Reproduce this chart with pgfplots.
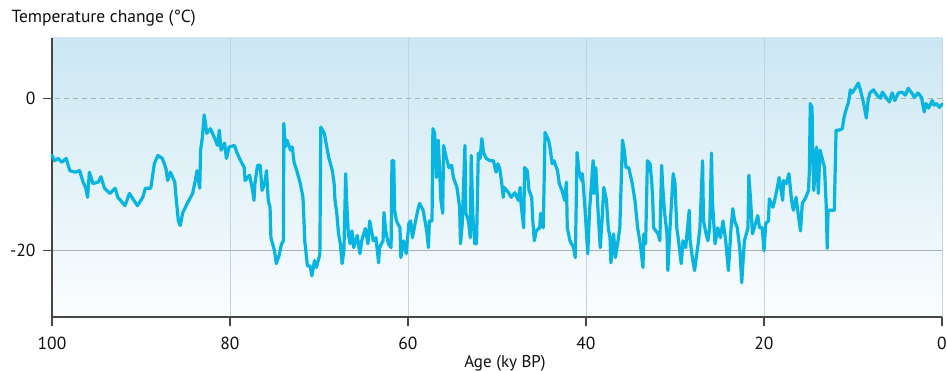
\documentclass[border=0pt]{standalone}
\usepackage{pgfplots}
\pgfplotsset{compat=1.18}
\usepackage{fontspec}
\setmainfont{PT Sans}
\definecolor{linecyan}{RGB}{8,180,224}
\definecolor{bgtop}{RGB}{203,231,243}
\definecolor{bgbot}{RGB}{251,253,254}
\definecolor{axgray}{RGB}{70,70,70}
\definecolor{vgrid}{RGB}{190,214,226}
\definecolor{hgrid}{RGB}{170,178,182}
\definecolor{txt}{RGB}{15,15,15}
\begin{document}
\begin{tikzpicture}
\begin{axis}[
  scale only axis,
  width=890bp, height=279bp,
  x dir=reverse,
  xmin=0, xmax=100,
  ymin=-28.7, ymax=7.9,
  axis x line*=bottom, axis y line*=left,
  axis line style={axgray, line width=1.3bp, -},
  every tick/.style={axgray, line width=1.2bp},
  tick align=outside,
  major tick length=9bp,
  xtick={100,80,60,40,20,0},
  ytick={-20},
  extra y ticks={0},
  extra y tick style={grid style={hgrid, dash pattern=on 5bp off 4bp, line width=0.9bp}},
  xmajorgrids, ymajorgrids,
  x grid style={vgrid, line width=0.9bp},
  y grid style={hgrid, line width=0.9bp},
  axis background/.style={top color=bgtop, bottom color=bgbot},
  /pgf/number format/assume math mode=true,
  tick label style={font=\fontsize{17.5bp}{20bp}\selectfont, text=txt},
  xticklabel style={yshift=-8bp},
  yticklabel style={xshift=-4bp},
  xlabel={Age (ky BP)},
  xlabel style={at={(axis description cs:0.509,-0.165)}, anchor=center, font=\fontsize{17bp}{20bp}\selectfont, text=txt},
  ylabel={Temperature change (°C)},
  ylabel style={rotate=-90, at={(axis description cs:-0.0494,1.072)}, anchor=west, font=\fontsize{17.5bp}{20bp}\selectfont, text=txt},
  clip=false,
]
\addplot[linecyan, line width=3.2bp, line join=round, line cap=round, mark=none] coordinates {
(100.0,-7.5) (99.7,-8.2) (99.3,-7.9) (98.9,-8.4) (98.4,-7.9) (98.0,-9.5) (97.4,-9.7) (96.9,-9.5)
(96.5,-11.0) (96.2,-11.8) (96.0,-13.0) (95.8,-9.7) (95.4,-11.2) (94.8,-11.0) (94.5,-10.3) (94.1,-11.8)
(93.5,-12.5) (92.9,-11.8) (92.6,-13.0) (92.3,-13.4) (91.8,-14.1) (91.3,-12.5) (90.8,-13.4) (90.4,-14.1)
(89.8,-13.0) (89.5,-11.8) (88.9,-11.8) (88.5,-8.6) (88.1,-7.5) (87.6,-7.9) (87.2,-9.2) (87.0,-10.8)
(86.7,-9.7) (86.2,-11.0) (86.1,-12.5) (85.8,-16.1) (85.6,-16.7) (85.3,-15.0) (84.8,-13.8) (84.2,-12.5)
(83.9,-10.8) (83.7,-9.5) (83.4,-11.8) (83.3,-6.8) (83.1,-5.1) (82.9,-2.2) (82.6,-4.6) (82.2,-4.0)
(81.7,-5.3) (81.4,-6.2) (81.2,-4.2) (81.0,-6.8) (80.6,-5.9) (80.4,-7.9) (80.1,-6.4) (79.5,-6.2)
(79.2,-7.2) (78.8,-8.2) (78.4,-9.1) (78.3,-10.8) (77.8,-10.1) (77.5,-11.8) (77.3,-13.4) (77.2,-11.2)
(76.9,-8.8) (76.6,-8.8) (76.4,-12.1) (76.1,-11.2) (75.9,-9.5) (75.7,-13.4) (75.5,-14.3) (75.4,-18.3)
(75.0,-20.0) (74.8,-21.7) (74.5,-20.7) (74.2,-19.1) (74.0,-18.7) (73.95,-3.3) (73.8,-6.4) (73.6,-5.5)
(73.2,-6.8) (73.0,-6.4) (72.8,-8.4) (72.5,-9.5) (72.1,-11.2) (71.8,-13.0) (71.7,-15.7) (71.6,-18.7)
(71.3,-22.0) (71.0,-22.0) (70.8,-23.3) (70.5,-21.3) (70.3,-22.2) (70.0,-20.9) (69.9,-20.4) (69.8,-3.8)
(69.4,-4.6) (69.2,-5.9) (68.9,-7.8) (68.5,-9.5) (68.3,-11.2) (68.2,-13.4) (68.0,-15.1) (67.8,-17.8)
(67.6,-19.1) (67.4,-21.7) (67.2,-20.0) (67.0,-9.9) (66.9,-13.4) (66.7,-17.8) (66.5,-19.1) (66.3,-17.4)
(66.1,-19.6) (65.7,-18.0) (65.4,-20.4) (65.2,-18.7) (64.8,-17.1) (64.5,-19.1) (64.3,-16.1) (63.9,-18.7)
(63.6,-18.3) (63.3,-21.6) (63.2,-19.6) (62.8,-18.7) (62.7,-15.0) (62.5,-17.4) (62.2,-19.1) (61.9,-19.6)
(61.8,-8.2) (61.6,-8.2) (61.5,-14.7) (61.3,-16.1) (60.9,-17.0) (60.8,-20.9) (60.5,-18.7) (60.2,-20.4)
(59.9,-16.4) (59.7,-16.1) (59.5,-18.3) (59.2,-16.4) (58.9,-14.7) (58.7,-13.8) (58.3,-14.7) (57.9,-17.4)
(57.7,-19.6) (57.6,-16.1) (57.3,-16.1) (57.2,-4.0) (57.0,-4.6) (56.8,-10.4) (56.6,-5.5) (56.3,-13.4)
(56.1,-15.1) (56.0,-6.2) (55.7,-7.8) (55.4,-9.1) (55.1,-8.8) (54.9,-10.4) (54.5,-11.7) (54.2,-14.3)
(54.1,-19.1) (53.9,-16.4) (53.6,-6.2) (53.5,-15.1) (53.2,-16.1) (53.0,-18.3) (52.9,-7.5) (52.7,-15.7)
(52.5,-19.1) (52.3,-19.1) (52.1,-7.2) (51.9,-7.9) (51.7,-5.3) (51.5,-7.2) (51.2,-7.9) (50.8,-8.2)
(50.4,-8.2) (50.1,-9.7) (49.9,-8.6) (49.7,-9.2) (49.5,-10.8) (49.3,-13.0) (49.2,-11.7) (48.7,-12.4)
(48.4,-13.0) (48.0,-12.4) (47.6,-13.4) (47.4,-11.7) (47.3,-13.8) (47.0,-17.0) (46.9,-9.1) (46.6,-9.5)
(46.4,-12.1) (46.1,-13.0) (46.0,-15.7) (45.8,-18.7) (45.6,-17.4) (45.2,-17.0) (45.1,-15.1) (44.8,-17.0)
(44.6,-4.5) (44.2,-5.5) (44.0,-6.8) (43.8,-8.6) (43.6,-8.2) (43.2,-9.5) (43.0,-11.2) (42.7,-12.1)
(42.4,-13.4) (42.2,-11.0) (42.1,-17.0) (41.8,-18.7) (41.4,-19.6) (41.2,-20.9) (41.0,-7.1) (40.8,-9.5)
(40.5,-10.8) (40.4,-9.9) (40.1,-14.7) (39.8,-20.4) (39.6,-14.7) (39.2,-8.2) (39.1,-12.5) (38.9,-9.1)
(38.6,-15.7) (38.4,-19.6) (38.2,-16.1) (38.0,-11.7) (37.7,-13.4) (37.5,-17.0) (37.3,-18.3) (37.2,-21.6)
(36.9,-17.8) (36.7,-20.9) (36.4,-18.7) (36.2,-17.0) (35.9,-5.5) (35.7,-6.8) (35.5,-9.1) (35.2,-9.1)
(34.8,-11.2) (34.5,-13.4) (34.2,-17.0) (33.9,-19.1) (33.6,-22.2) (33.5,-17.8) (33.3,-19.1) (33.1,-8.2)
(32.8,-8.6) (32.6,-11.2) (32.5,-13.4) (32.4,-17.0) (31.9,-17.8) (31.7,-18.7) (31.5,-8.8) (31.4,-11.2)
(31.2,-14.7) (30.9,-17.8) (30.8,-22.6) (30.6,-17.8) (30.2,-9.9) (30.0,-11.2) (29.8,-17.0) (29.6,-18.7)
(29.3,-21.7) (29.1,-18.7) (28.8,-19.6) (28.4,-14.7) (28.3,-18.7) (28.0,-21.3) (27.8,-22.6) (27.4,-19.1)
(27.2,-17.0) (26.9,-8.2) (26.8,-16.1) (26.5,-17.8) (26.3,-18.7) (26.1,-17.0) (25.9,-7.2) (25.8,-13.4)
(25.5,-19.1) (25.2,-17.0) (24.9,-18.3) (24.6,-16.1) (24.3,-18.7) (24.0,-22.6) (23.7,-17.0) (23.5,-14.5)
(23.3,-16.1) (23.0,-17.0) (22.7,-20.0) (22.5,-24.2) (22.4,-22.2) (22.2,-18.7) (21.8,-17.0) (21.7,-10.1)
(21.5,-13.4) (21.3,-17.8) (21.1,-17.0) (20.7,-15.4) (20.5,-17.0) (20.2,-17.0) (20.0,-20.0) (19.8,-16.4)
(19.5,-16.1) (19.4,-13.2) (19.0,-14.3) (18.8,-13.4) (18.5,-11.7) (18.3,-10.4) (17.9,-13.4) (17.8,-10.8)
(17.5,-11.2) (17.2,-9.9) (16.9,-13.4) (16.7,-14.7) (16.4,-13.0) (16.1,-15.7) (15.9,-17.4) (15.7,-13.8)
(15.3,-13.0) (15.0,-12.1) (14.9,-9.5) (14.8,-0.7) (14.6,-1.2) (14.55,-5.9) (14.4,-12.1) (14.1,-6.4)
(13.9,-12.5) (13.7,-6.8) (13.4,-8.2) (13.2,-9.1) (13.0,-14.3) (12.9,-19.7) (12.8,-14.7) (12.3,-14.7)
(12.1,-14.7) (11.9,-4.2) (11.6,-4.2) (11.2,-4.0) (11.0,-2.5) (10.8,-1.6) (10.5,-0.5) (10.3,1.1)
(10.1,0.7) (9.7,1.4) (9.4,2.0) (9.1,0.8) (8.8,-0.7) (8.5,-2.6) (8.3,-0.3) (8.1,0.7)
(7.7,1.1) (7.3,0.4) (6.9,0.0) (6.7,0.8) (6.3,0.1) (5.9,-0.5) (5.6,0.7) (5.3,-0.3)
(4.9,0.7) (4.5,0.8) (4.1,0.4) (3.8,1.3) (3.4,0.7) (3.1,0.1) (2.7,0.7) (2.3,0.1)
(2.0,-1.8) (1.8,-0.7) (1.5,-1.3) (1.1,-0.3) (0.9,-0.9) (0.6,-0.7) (0.3,-1.2) (0.0,-0.8)
};
\end{axis}
\pgfresetboundingbox
\path (-52bp,-54bp) rectangle (895bp,317bp);
\end{tikzpicture}
\end{document}
